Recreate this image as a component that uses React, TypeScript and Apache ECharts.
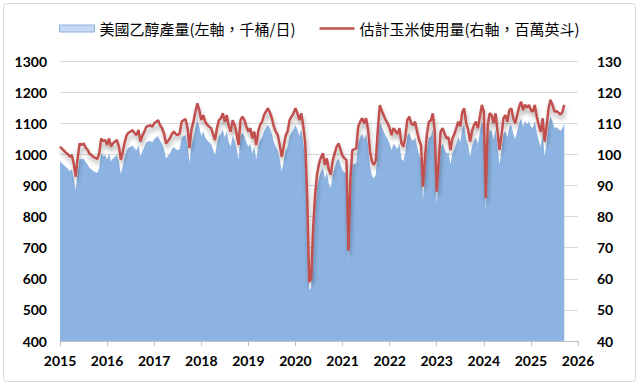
import React, { useEffect, useRef } from "react";
import * as echarts from "echarts";

// Semi-monthly readings starting January 2015
const START_YEAR = 2015;
const PERIODS_PER_YEAR = 24;

const xAxisMin = 2015;
const xAxisMax = 2026;

const legendNames = ["美國乙醇產量(左軸，千桶/日)", "估計玉米使用量(右軸，百萬英斗)"];

// 美國乙醇產量 (千桶/日)
const ethanolOutput = [
  978, 971, 965, 959, 954, 946, 952, 925, 885, 942,
  987, 983, 987, 976, 968, 957, 952, 946, 943, 940,
  957, 1003, 994, 998, 983, 1003, 978, 987, 993, 998,
  978, 937, 962, 992, 1013, 1021, 1024, 1028, 1019, 1013,
  1028, 993, 1011, 1024, 1039, 1041, 1044, 1038, 1049, 1054,
  1059, 1044, 1034, 1018, 987, 995, 1003, 1016, 1024, 1016,
  1013, 1018, 1054, 1059, 1062, 1034, 973, 1030, 1054, 1085,
  1110, 1089, 1059, 1074, 1054, 1045, 1039, 1034, 1016, 998,
  1034, 1059, 1065, 1080, 1054, 1074, 1040, 1024, 1059, 1044,
  1018, 983, 1059, 1069, 1059, 1039, 1024, 1034, 1003, 1024,
  983, 1024, 1045, 1054, 1074, 1086, 1095, 1082, 1065, 1039,
  1024, 1013, 983, 946, 978, 1011, 1024, 1059, 1069, 1080,
  1095, 1080, 1059, 1080, 1039, 987, 820, 563, 572, 725,
  830, 892, 925, 944, 957, 922, 942, 906, 892, 935,
  957, 978, 987, 967, 949, 942, 937, 658, 878, 967,
  969, 972, 1039, 1054, 1065, 1049, 1065, 1030, 964, 931,
  922, 937, 1030, 1105, 1088, 1073, 1059, 1049, 1034, 1013,
  1034, 1026, 1016, 1034, 987, 978, 1006, 1059, 1069, 1049,
  1044, 1054, 1024, 998, 983, 855, 942, 1016, 1054, 1057,
  1080, 1024, 840, 931, 1024, 1034, 1018, 1003, 1006, 967,
  1003, 1016, 1035, 1054, 1040, 1083, 1095, 1049, 1030, 993,
  1026, 1044, 1054, 1034, 1069, 1106, 1085, 819, 1044, 1080,
  1074, 1049, 1080, 1024, 967, 1011, 1065, 1074, 1054, 1089,
  1095, 1065, 1049, 1074, 1100, 1115, 1089, 1107, 1097, 1106,
  1089, 1085, 1106, 1069, 1044, 1024, 1065, 993, 1039, 1095,
  1121, 1106, 1085, 1087, 1082, 1076, 1083, 1100,
];

// 估計玉米使用量 (百萬英斗)
const cornUse = [
  102.5, 101.8, 101.2, 100.5, 100.0, 99.2, 99.8, 97.0, 92.8, 98.7,
  103.5, 103.0, 103.5, 102.3, 101.5, 100.3, 99.8, 99.2, 98.9, 98.5,
  100.3, 105.1, 104.2, 104.6, 103.0, 105.1, 102.5, 103.5, 104.1, 104.6,
  102.5, 98.2, 100.8, 104.0, 106.2, 107.0, 107.3, 107.8, 106.8, 106.2,
  107.8, 104.1, 106.0, 107.3, 108.9, 109.1, 109.4, 108.8, 110.0, 110.5,
  111.0, 109.4, 108.4, 106.7, 103.5, 104.3, 105.1, 106.5, 107.3, 106.5,
  106.2, 106.7, 110.5, 111.0, 111.3, 108.4, 102.0, 108.0, 110.5, 113.7,
  116.4, 114.2, 111.0, 112.6, 110.5, 109.5, 108.9, 108.4, 106.5, 104.6,
  108.4, 111.0, 111.6, 113.2, 110.5, 112.6, 109.0, 107.3, 111.0, 109.4,
  106.7, 103.0, 111.0, 112.1, 111.0, 108.9, 107.3, 108.4, 105.1, 107.3,
  103.0, 107.3, 109.5, 110.5, 112.6, 113.8, 114.8, 113.4, 111.6, 108.9,
  107.3, 106.2, 103.0, 99.2, 102.5, 106.0, 107.3, 111.0, 112.1, 113.2,
  114.8, 113.2, 111.0, 113.2, 108.9, 103.5, 86.0, 59.0, 60.0, 76.0,
  87.0, 93.5, 97.0, 99.0, 100.3, 96.6, 98.7, 95.0, 93.5, 98.0,
  100.3, 102.5, 103.5, 101.4, 99.5, 98.7, 98.2, 69.0, 92.0, 101.4,
  101.6, 101.9, 108.9, 110.5, 111.6, 110.0, 111.6, 108.0, 101.0, 97.6,
  96.6, 98.2, 108.0, 115.8, 114.0, 112.5, 111.0, 110.0, 108.4, 106.2,
  108.4, 107.5, 106.5, 108.4, 103.5, 102.5, 105.5, 111.0, 112.1, 110.0,
  109.4, 110.5, 107.3, 104.6, 103.0, 89.6, 98.7, 106.5, 110.5, 110.8,
  113.2, 107.3, 88.0, 97.6, 107.3, 108.4, 106.7, 105.1, 105.5, 101.4,
  105.1, 106.5, 108.5, 110.5, 109.0, 113.5, 114.8, 110.0, 108.0, 104.1,
  107.5, 109.4, 110.5, 108.4, 112.1, 115.9, 113.7, 85.9, 109.4, 113.2,
  112.6, 110.0, 113.2, 107.3, 101.4, 106.0, 111.6, 112.6, 110.5, 114.2,
  114.8, 111.6, 110.0, 112.6, 115.3, 116.9, 114.2, 116.0, 115.0, 115.9,
  114.2, 113.7, 115.9, 112.1, 109.4, 107.3, 111.6, 104.1, 108.9, 114.8,
  117.5, 115.9, 113.7, 113.9, 113.4, 112.8, 113.5, 115.9,
];

const AXIS_FONT = "Lato, 'Liberation Sans', sans-serif";
const CJK_FONT = "'Noto Sans CJK TC', 'Noto Sans', sans-serif";

export default function App() {
  const ref = useRef<HTMLDivElement>(null);

  useEffect(() => {
    if (!ref.current) return;
    const chart = echarts.init(ref.current, null, { renderer: "svg" });
    const toX = (i: number) => START_YEAR + i / PERIODS_PER_YEAR;

    const axisLabelStyle = {
      color: "#000",
      fontWeight: "bold" as const,
      fontSize: 14,
      fontFamily: AXIS_FONT,
      formatter: (v: number) => String(v),
    };

    chart.setOption({
      animation: false,
      backgroundColor: "#ffffff",
      graphic: [
        {
          type: "rect",
          silent: true,
          z: 100,
          shape: { x: 3.5, y: 3.5, width: 632, height: 378, r: 3 },
          style: { fill: "none", stroke: "#d9d9d9", lineWidth: 1 },
        },
      ],
      legend: {
        left: 54,
        top: 16,
        itemWidth: 35,
        itemHeight: 7,
        itemGap: 24,
        symbolKeepAspect: true,
        textStyle: { fontSize: 15, color: "#000", fontFamily: CJK_FONT },
        data: [
          {
            name: legendNames[0],
            icon: "rect",
            itemStyle: { color: "#c6d9f1", borderColor: "#8db3e2", borderWidth: 1 },
          },
          {
            name: legendNames[1],
            icon: "path://M0,0 H35 V2.5 H0 Z",
            itemStyle: { color: "#c0504d", borderWidth: 0, shadowBlur: 0, shadowOffsetY: 0 },
          },
        ],
      },
      grid: { left: 60, right: 62, top: 61, bottom: 45 },
      xAxis: {
        type: "value",
        min: xAxisMin,
        max: xAxisMax,
        interval: 1,
        axisLine: { show: true, lineStyle: { color: "#bfbfbf", width: 1 } },
        axisTick: { show: true, length: 5, lineStyle: { color: "#bfbfbf" } },
        splitLine: { show: false },
        axisLabel: { ...axisLabelStyle, margin: 12 },
      },
      yAxis: [
        {
          type: "value",
          min: 400,
          max: 1300,
          interval: 100,
          position: "left",
          axisLine: { show: false },
          axisTick: { show: false },
          splitLine: { show: true, lineStyle: { color: "#d9d9d9", width: 1 } },
          axisLabel: { ...axisLabelStyle, margin: 13 },
        },
        {
          type: "value",
          min: 40,
          max: 130,
          interval: 10,
          position: "right",
          axisLine: { show: false },
          axisTick: { show: false },
          splitLine: { show: false },
          axisLabel: { ...axisLabelStyle, margin: 19 },
        },
      ],
      series: [
        {
          name: legendNames[0],
          type: "line",
          yAxisIndex: 0,
          data: ethanolOutput.map((v, i) => [toX(i), v]),
          symbol: "none",
          lineStyle: { width: 0, color: "#8db3e2" },
          itemStyle: { color: "#8db3e2" },
          areaStyle: { color: "#8db3e2", opacity: 1, origin: "start" },
          z: 1,
        },
        {
          name: legendNames[1],
          type: "line",
          yAxisIndex: 1,
          data: cornUse.map((v, i) => [toX(i), v]),
          symbol: "none",
          lineStyle: {
            color: "#c0504d",
            width: 2.5,
            shadowColor: "rgba(0,0,0,0.3)",
            shadowBlur: 4,
            shadowOffsetY: 4,
            shadowOffsetX: 1,
          },
          itemStyle: { color: "#c0504d" },
          z: 2,
        },
      ],
    });

    return () => chart.dispose();
  }, []);

  return (
    <div
      ref={ref}
      style={{ position: "absolute", left: 0, top: 0, width: 640, height: 386 }}
    />
  );
}
